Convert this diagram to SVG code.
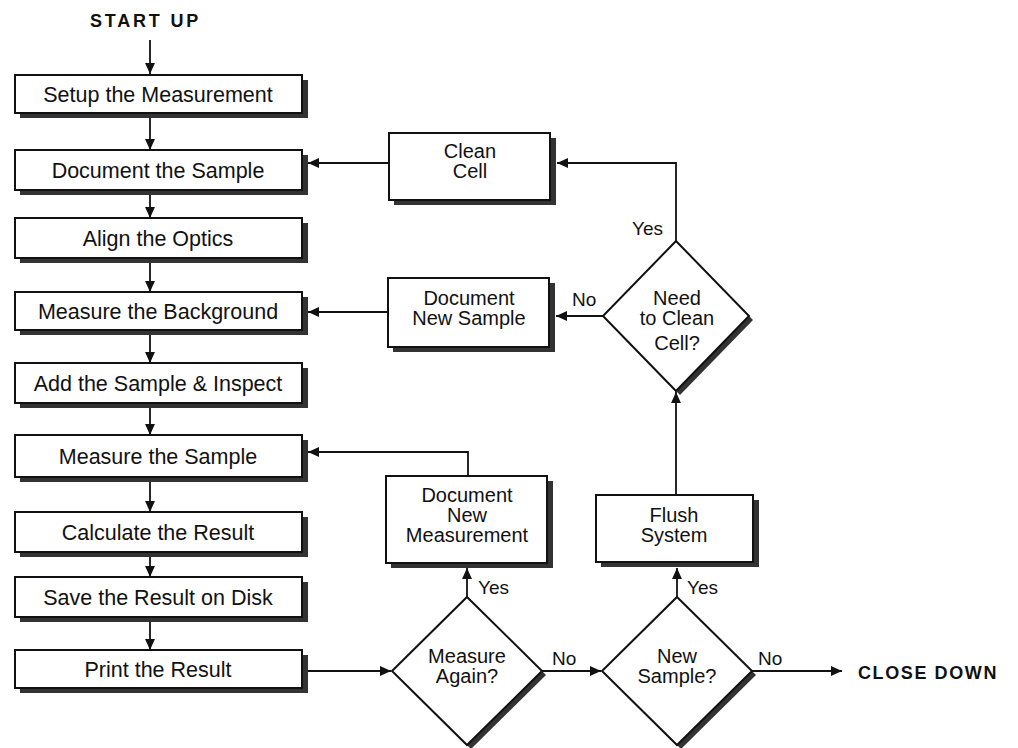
<svg xmlns="http://www.w3.org/2000/svg" width="1018" height="748" viewBox="0 0 1018 748">
<defs>
<marker id="ah" viewBox="0 0 10 10" refX="10" refY="5" markerWidth="11" markerHeight="11" markerUnits="userSpaceOnUse" orient="auto"><path d="M0,0.5 L10,5 L0,9.5 z" fill="#111"/></marker>
</defs>
<style>
.box{fill:#fff;stroke:#111;stroke-width:2}
.sh{fill:#333}
.t{font-family:"Liberation Sans",Arial,sans-serif;font-size:20px;fill:#111;text-anchor:middle}
.tl{font-family:"Liberation Sans",Arial,sans-serif;font-size:21.5px;fill:#111;text-anchor:middle}
.lbl{font-family:"Liberation Sans",Arial,sans-serif;font-size:19px;fill:#111}
.ttl{font-family:"Liberation Sans",Arial,sans-serif;font-size:18px;font-weight:bold;fill:#111}
.c{fill:none;stroke:#111;stroke-width:1.8;marker-end:url(#ah)}
</style>
<rect width="1018" height="748" fill="#fff"/>
<text class="ttl" x="90" y="27" letter-spacing="2.8">START UP</text>

<g id="n1"><rect class="sh" x="20" y="80" width="288" height="38"/><rect class="box" x="15" y="75" width="287" height="38"/><text class="tl" x="158" y="102">Setup the Measurement</text></g>
<g id="n2"><rect class="sh" x="20" y="155" width="288" height="40"/><rect class="box" x="15" y="150" width="287" height="40"/><text class="tl" x="158" y="178">Document the Sample</text></g>
<g id="n3"><rect class="sh" x="20" y="223" width="288" height="40"/><rect class="box" x="15" y="218" width="287" height="40"/><text class="tl" x="158" y="246">Align the Optics</text></g>
<g id="n4"><rect class="sh" x="20" y="297" width="288" height="38"/><rect class="box" x="15" y="292" width="287" height="38"/><text class="tl" x="158" y="319">Measure the Background</text></g>
<g id="n5"><rect class="sh" x="20" y="368" width="288" height="40"/><rect class="box" x="15" y="363" width="287" height="40"/><text class="tl" x="158" y="391">Add the Sample &amp; Inspect</text></g>
<g id="n6"><rect class="sh" x="20" y="440" width="288" height="42"/><rect class="box" x="15" y="435" width="287" height="42"/><text class="tl" x="158" y="464">Measure the Sample</text></g>
<g id="n7"><rect class="sh" x="20" y="517" width="288" height="40"/><rect class="box" x="15" y="512" width="287" height="40"/><text class="tl" x="158" y="540">Calculate the Result</text></g>
<g id="n8"><rect class="sh" x="20" y="582" width="288" height="40"/><rect class="box" x="15" y="577" width="287" height="40"/><text class="tl" x="158" y="605">Save the Result on Disk</text></g>
<g id="n9"><rect class="sh" x="20" y="655" width="288" height="38"/><rect class="box" x="15" y="650" width="287" height="38"/><text class="tl" x="158" y="677">Print the Result</text></g>

<g id="clean"><rect class="sh" x="394" y="138" width="162" height="67"/><rect class="box" x="389" y="133" width="161" height="67"/><text class="t" x="470" y="158">Clean</text><text class="t" x="470" y="178">Cell</text></g>
<g id="docnew"><rect class="sh" x="393" y="283" width="162" height="69"/><rect class="box" x="388" y="278" width="161" height="69"/><text class="t" x="469" y="305">Document</text><text class="t" x="469" y="325">New Sample</text></g>
<g id="docmeas"><rect class="sh" x="391" y="481" width="162" height="87"/><rect class="box" x="386" y="476" width="161" height="87"/><text class="t" x="467" y="502">Document</text><text class="t" x="467" y="522">New</text><text class="t" x="467" y="542">Measurement</text></g>
<g id="flush"><rect class="sh" x="601" y="500" width="158" height="67"/><rect class="box" x="596" y="495" width="157" height="67"/><text class="t" x="674" y="522">Flush</text><text class="t" x="674" y="542">System</text></g>

<g id="needclean"><polygon class="sh" points="680,245 753,320 680,395 607,320"/><polygon class="box" points="676,241 749,316 676,391 603,316"/><text class="t" x="677" y="305">Need</text><text class="t" x="677" y="325">to Clean</text><text class="t" x="677" y="350">Cell?</text></g>
<g id="again"><polygon class="sh" points="471,601 546,675 471,749 396,675"/><polygon class="box" points="467,597 542,671 467,745 392,671"/><text class="t" x="467" y="663">Measure</text><text class="t" x="467" y="683">Again?</text></g>
<g id="newsample"><polygon class="sh" points="681,601 756,675 681,749 606,675"/><polygon class="box" points="677,597 752,671 677,745 602,671"/><text class="t" x="677" y="663">New</text><text class="t" x="677" y="683">Sample?</text></g>

<text class="ttl" x="858" y="679" letter-spacing="1.6" font-size="19">CLOSE DOWN</text>
<text class="lbl" x="632" y="235">Yes</text>
<text class="lbl" x="572" y="306">No</text>
<text class="lbl" x="478" y="594">Yes</text>
<text class="lbl" x="687" y="594">Yes</text>
<text class="lbl" x="552" y="665">No</text>
<text class="lbl" x="758" y="665">No</text>

<g id="connectors">
<path class="c" d="M150,40 V74"/>
<path class="c" d="M150,118 V150"/>
<path class="c" d="M150,195 V218"/>
<path class="c" d="M150,263 V292"/>
<path class="c" d="M150,335 V363"/>
<path class="c" d="M150,408 V435"/>
<path class="c" d="M150,482 V512"/>
<path class="c" d="M150,557 V577"/>
<path class="c" d="M150,622 V650"/>
<path class="c" d="M389,163 H308"/>
<path class="c" d="M388,312 H308"/>
<path class="c" d="M468,476 V452 H308"/>
<path class="c" d="M676,241 V163 H557"/>
<path class="c" d="M603,316 H556"/>
<path class="c" d="M676,495 V392"/>
<path class="c" d="M308,671 H391"/>
<path class="c" d="M467,597 V568"/>
<path class="c" d="M677,597 V568"/>
<path class="c" d="M542,671 H601"/>
<path class="c" d="M752,671 H842"/>
</g>
</svg>
